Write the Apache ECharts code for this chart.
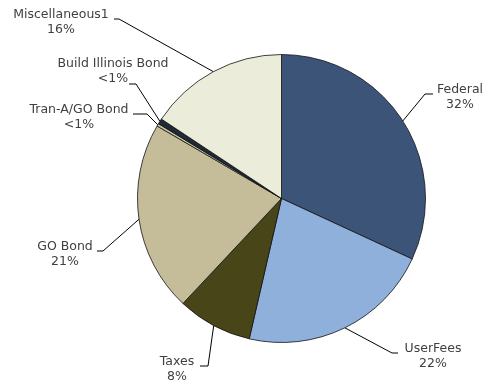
<!DOCTYPE html>
<html>
<head>
<meta charset="utf-8">
<script src="https://cdn.jsdelivr.net/npm/echarts@6/dist/echarts.min.js"></script>
<style>
  html, body { margin: 0; padding: 0; background: #ffffff; }
  #chart { width: 487px; height: 382px; }
</style>
</head>
<body>
<div id="chart"></div>
<script>
// Revenue sources, share of total (percent)
const categories = ['Federal', 'UserFees', 'Taxes', 'GO Bond', 'Tran-A/GO Bond', 'Build Illinois Bond', 'Miscellaneous1'];
const shares = [31.9, 21.7, 8.4, 21.4, 0.3, 0.6, 15.7];
const sliceColors = ['#3d5479', '#8eb0db', '#484619', '#c5bd99', '#c9c4a8', '#1e2a35', '#ebedda'];

// Label placement: text centre x/y, leader elbow x, leader end x/y
const labelSpots = [
  { x: 460, y: 97,  elbowX: 425, endX: 433, endY: 94 },
  { x: 433, y: 356, elbowX: 392, endX: 398, endY: 353 },
  { x: 177, y: 369, elbowX: 208, endX: 200, endY: 366 },
  { x: 65,  y: 254, elbowX: 103, endX: 97,  endY: 251 },
  { x: 79,  y: 117, elbowX: 147, endX: 133, endY: 114 },
  { x: 113, y: 71,  elbowX: 136, endX: 129, endY: 84 },
  { x: 61,  y: 22,  elbowX: 119, endX: 114, endY: 19 }
];

function percentText(v) {
  return v < 1 ? '<1%' : Math.round(v) + '%';
}

const chart = echarts.init(document.getElementById('chart'), null, { renderer: 'canvas' });

chart.setOption({
  animation: false,
  backgroundColor: '#ffffff',
  series: [{
    type: 'pie',
    center: [281.5, 198.5],
    radius: 144,
    startAngle: 90,
    clockwise: true,
    avoidLabelOverlap: false,
    silent: true,
    data: categories.map((name, i) => ({
      name: name,
      value: shares[i],
      itemStyle: { color: sliceColors[i] }
    })),
    itemStyle: { borderColor: '#111111', borderWidth: 0.8 },
    label: {
      show: true,
      position: 'outside',
      formatter: p => p.name + '\n' + percentText(p.value),
      fontFamily: 'DejaVu Sans',
      fontSize: 12.5,
      lineHeight: 15,
      color: '#404040',
      align: 'center'
    },
    labelLine: {
      show: true,
      lineStyle: { color: '#000000', width: 1 }
    },
    labelLayout: function (params) {
      const s = labelSpots[params.dataIndex];
      const start = params.labelLinePoints ? params.labelLinePoints[0] : [s.elbowX, s.endY];
      return {
        x: s.x,
        y: s.y,
        align: 'center',
        verticalAlign: 'middle',
        labelLinePoints: [start, [s.elbowX, s.endY], [s.endX, s.endY]]
      };
    }
  }]
});
</script>
</body>
</html>
